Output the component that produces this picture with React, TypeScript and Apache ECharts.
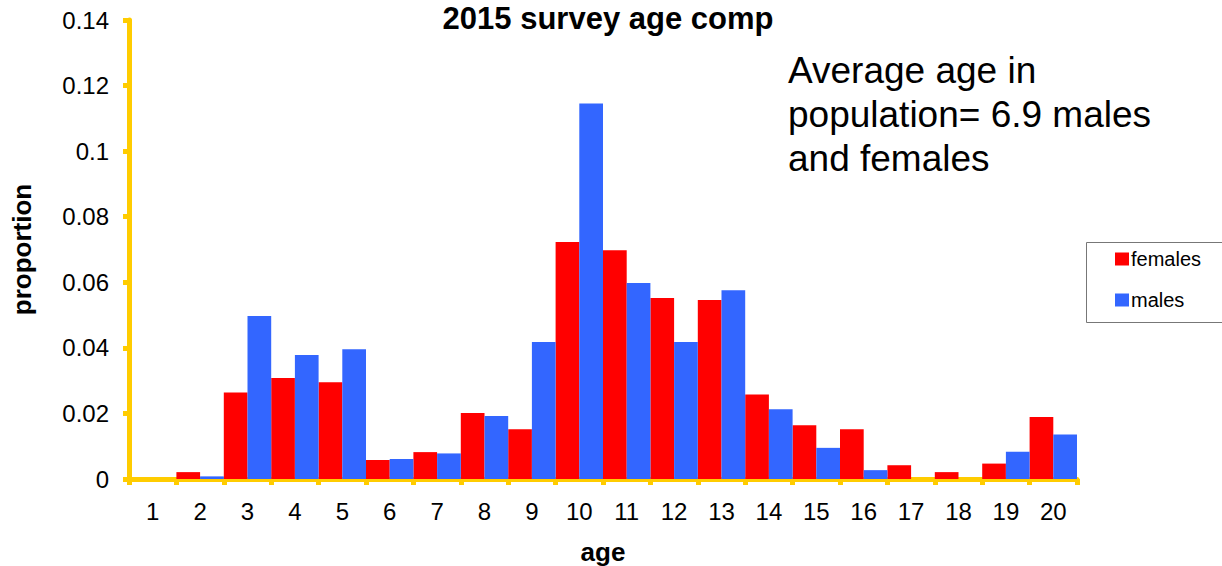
import React, { useEffect, useRef } from "react";
import * as echarts from "echarts";

const ages = ["1","2","3","4","5","6","7","8","9","10","11","12","13","14","15","16","17","18","19","20"];
const females = [0, 0.0021, 0.0264, 0.0308, 0.0295, 0.0058, 0.0082, 0.0201, 0.0152, 0.0723, 0.0698, 0.0552, 0.0546, 0.0258, 0.0164, 0.0152, 0.0042, 0.0021, 0.0047, 0.0189];
const males = [0, 0.0008, 0.0497, 0.0378, 0.0396, 0.0061, 0.0078, 0.0192, 0.0418, 0.1145, 0.0598, 0.0418, 0.0576, 0.0213, 0.0095, 0.0027, 0, 0, 0.0083, 0.0136];
const yTicks = { min: 0, max: 0.14, interval: 0.02 };

const FONT = "'Liberation Sans', Arial, sans-serif";
const AXIS = "#FFCC00";

export default function App() {
  const ref = useRef<HTMLDivElement>(null);
  useEffect(() => {
    if (!ref.current) return;
    const chart = echarts.init(ref.current, null, { renderer: "svg" });
    chart.setOption({
      animation: false,
      backgroundColor: "#fff",
      textStyle: { fontFamily: FONT },
      title: {
        text: "2015 survey age comp",
        left: 608,
        top: 3,
        padding: 0,
        textAlign: "center",
        textStyle: { fontFamily: FONT, fontSize: 31, fontWeight: "bold", color: "#000" },
      },
      grid: { left: 129, right: 145, top: 20, bottom: 87, containLabel: false, outerBoundsMode: "none" },
      legend: {
        orient: "vertical",
        left: 1115,
        top: 249,
        padding: 0,
        itemWidth: 14,
        itemHeight: 13,
        itemGap: 21,
        icon: "rect",
        textStyle: { fontFamily: FONT, fontSize: 20, color: "#000", padding: [0, 0, 0, -3] },
        data: ["females", "males"],
      },
      xAxis: {
        type: "category",
        data: ages,
        name: "age",
        nameLocation: "middle",
        nameGap: 60,
        nameTextStyle: { fontFamily: FONT, fontSize: 26, fontWeight: "bold", color: "#000" },
        axisLine: { lineStyle: { color: AXIS, width: 5 } },
        axisTick: { show: true, length: 6, interval: 0, lineStyle: { color: AXIS, width: 5 } },
        axisLabel: { fontFamily: FONT, fontSize: 24, color: "#000", margin: 20, interval: 0 },
      },
      yAxis: {
        type: "value",
        min: yTicks.min,
        max: yTicks.max,
        interval: yTicks.interval,
        name: "proportion",
        nameLocation: "middle",
        nameGap: 94,
        nameTextStyle: { fontFamily: FONT, fontSize: 26, fontWeight: "bold", color: "#000" },
        axisLine: { show: true, lineStyle: { color: AXIS, width: 5 } },
        axisTick: { show: true, length: 6, lineStyle: { color: AXIS, width: 5 } },
        axisLabel: { fontFamily: FONT, fontSize: 24, color: "#000", margin: 20 },
        splitLine: { show: false },
      },
      series: [
        {
          name: "females",
          type: "bar",
          data: females,
          itemStyle: { color: "#FF0000" },
          barGap: "0%",
          barCategoryGap: "0%",
          z: 1,
        },
        {
          name: "males",
          type: "bar",
          data: males,
          itemStyle: { color: "#3366FF" },
          barGap: "0%",
          barCategoryGap: "0%",
          z: 1,
        },
      ],
      graphic: [
        {
          type: "rect",
          left: 1084,
          top: 240,
          shape: { width: 150, height: 80 },
          style: { fill: "none", stroke: "#777", lineWidth: 1 },
          silent: true,
        },
        {
          type: "text",
          left: 788,
          top: 48,
          style: {
            text: "Average age in\npopulation= 6.9 males\nand females",
            font: `37px ${FONT}`,
            lineHeight: 44,
            fill: "#000",
          },
        },
      ],
    });
    return () => chart.dispose();
  }, []);
  return <div ref={ref} style={{ width: 1222, height: 566, position: "absolute", left: 0, top: 0 }} />;
}
